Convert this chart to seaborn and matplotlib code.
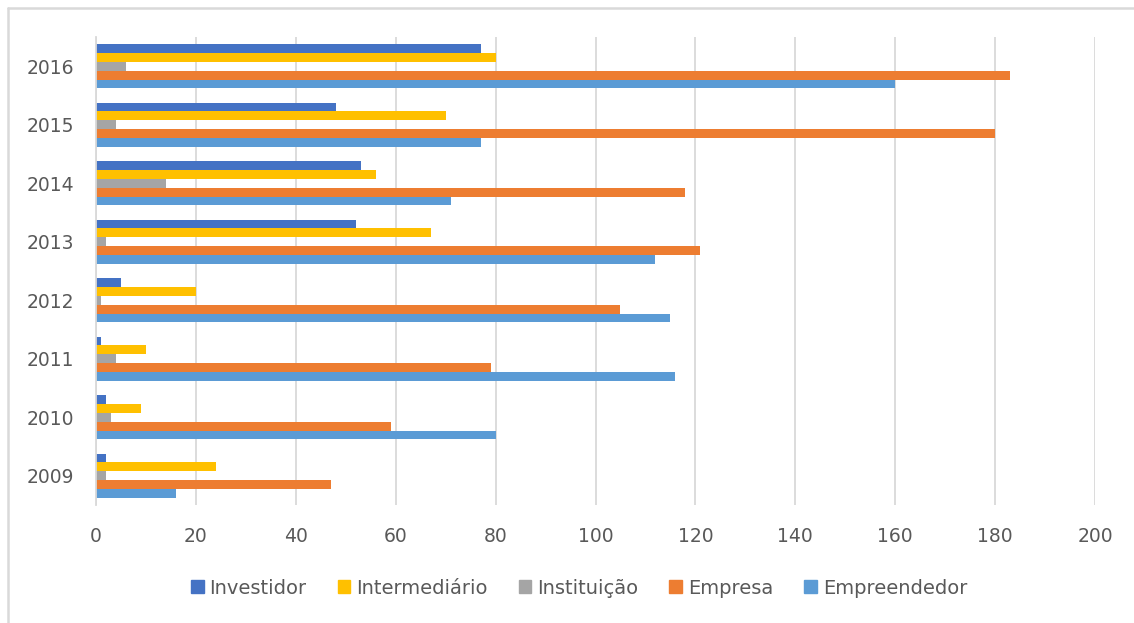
import matplotlib
matplotlib.use("Agg")
import matplotlib.pyplot as plt
from matplotlib.lines import Line2D
import seaborn as sns
import pandas as pd

years = ["2016", "2015", "2014", "2013", "2012", "2011", "2010", "2009"]
series = ["Investidor", "Intermediário", "Instituição", "Empresa", "Empreendedor"]
investidor = [77, 48, 53, 52, 5, 1, 2, 2]
intermediario = [80, 70, 56, 67, 20, 10, 9, 24]
instituicao = [6, 4, 14, 2, 1, 4, 3, 2]
empresa = [183, 180, 118, 121, 105, 79, 59, 47]
empreendedor = [160, 77, 71, 112, 115, 116, 80, 16]
xticks = [0, 20, 40, 60, 80, 100, 120, 140, 160, 180, 200]

colors = ["#4472C4", "#FFC000", "#A5A5A5", "#ED7D31", "#5B9BD5"]

rows = []
for name, vals in zip(series, [investidor, intermediario, instituicao, empresa, empreendedor]):
    for y, v in zip(years, vals):
        rows.append({"Ano": y, "Série": name, "Valor": v})
df = pd.DataFrame(rows)

sns.set_theme(style="white")
plt.rcParams["font.family"] = ["DejaVu Sans"]

fig = plt.figure(figsize=(11.34, 6.23), dpi=100)
ax = fig.add_axes([96 / 1134, 1 - 505 / 623, (1095 - 96) / 1134, (505 - 37) / 623])

sns.barplot(data=df, y="Ano", x="Valor", hue="Série", order=years, hue_order=series,
            palette=colors, orient="h", width=0.76, gap=0, saturation=1,
            ax=ax, errorbar=None, edgecolor="none", linewidth=0)

ax.set_xlim(0, 200)
ax.set_xticks(xticks)
ax.set_xticklabels([str(t) for t in xticks])
ax.set_xlabel("")
ax.set_ylabel("")
ax.grid(axis="x", color="#D9D9D9", linewidth=1.3)
ax.grid(axis="y", visible=False)
ax.set_axisbelow(True)
for s in ["top", "right", "bottom"]:
    ax.spines[s].set_visible(False)
ax.spines["left"].set_color("#D9D9D9")
ax.spines["left"].set_linewidth(1.3)
ax.tick_params(axis="both", length=0, labelsize=13.5, labelcolor="#595959")
ax.tick_params(axis="x", pad=16)
ax.tick_params(axis="y", pad=16)

handles = [plt.Rectangle((0, 0), 1, 1, color=c) for c in colors]
ax.legend(handles, series, loc="center", bbox_to_anchor=(0.5 + 12 / 1134, 1 - 588 / 623),
          bbox_transform=fig.transFigure, ncol=5, frameon=False,
          fontsize=14, labelcolor="#595959", handlelength=0.65, handleheight=0.65,
          handletextpad=0.3, columnspacing=1.6)

fig.add_artist(Line2D([7.5 / 1134, 1], [1 - 7.5 / 623] * 2, transform=fig.transFigure,
                      color="#D9D9D9", linewidth=1.8))
fig.add_artist(Line2D([7.5 / 1134] * 2, [0, 1 - 7.5 / 623], transform=fig.transFigure,
                      color="#D9D9D9", linewidth=1.8))

fig.savefig("out.png", dpi=100)
